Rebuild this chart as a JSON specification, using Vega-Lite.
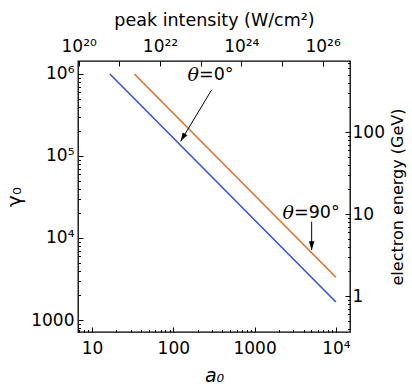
{
  "$schema": "https://vega.github.io/schema/vega-lite/v6.json",
  "width": 272,
  "height": 271,
  "autosize": {"type": "none"},
  "padding": {"left": 78, "top": 61, "right": 62, "bottom": 55},
  "background": "white",
  "config": {
    "view": {"stroke": "black", "strokeWidth": 1.3},
    "font": "DejaVu Sans",
    "axis": {
      "grid": false,
      "domain": false,
      "tickColor": "black",
      "tickWidth": 1,
      "labelColor": "black",
      "labelFont": "DejaVu Sans",
      "labelFontSize": 17,
      "titleColor": "black",
      "titleFont": "DejaVu Sans",
      "titleFontSize": 17.5,
      "titleFontWeight": "normal"
    }
  },
  "datasets": {
    "lines": [
      {"a0": 16.6, "gamma": 1000000, "theta": "0"},
      {"a0": 10000, "gamma": 1660, "theta": "0"},
      {"a0": 33.2, "gamma": 1000000, "theta": "90"},
      {"a0": 10000, "gamma": 3320, "theta": "90"}
    ],
    "arrows": [
      {"id": "0", "a0": 296.6, "gamma": 641000, "a0_tip": 123, "gamma_tip": 151000},
      {"id": "90", "a0": 5035, "gamma": 15800, "a0_tip": 5035, "gamma_tip": 7140}
    ],
    "notes": [
      {"id": "0", "a0": 207, "gamma": 960000, "sym": "θ", "rest": "=0°"},
      {"id": "90", "a0": 3055, "gamma": 20200, "sym": "θ", "rest": "=90°"}
    ],
    "intensity": [{"I": 9.64e19}, {"I": 4.73e26}],
    "energy": [{"GeV": 0.365}, {"GeV": 735.8}]
  },
  "layer": [
    {
      "encoding": {
        "x": {
          "field": "a0", "type": "quantitative",
          "scale": {"type": "log", "domain": [6.727, 14910], "nice": false, "zero": false},
          "axis": {
            "orient": "bottom",
            "title": "a₀",
            "titleFontStyle": "italic",
            "titleFontSize": 19,
            "titlePadding": 8,
            "values": [7,8,9,10,20,30,40,50,60,70,80,90,100,200,300,400,500,600,700,800,900,1000,2000,3000,4000,5000,6000,7000,8000,9000,10000],
            "labelExpr": "datum.value == 10 ? '10' : datum.value == 100 ? '100' : datum.value == 1000 ? '1000' : datum.value == 10000 ? '10⁴' : ''",
            "tickSize": {"condition": {"test": "abs(log(datum.value)/LN10 - round(log(datum.value)/LN10)) < 0.001", "value": -5}, "value": -2.5},
            "labelPadding": 13,
            "labelFlush": false,
            "labelOverlap": false
          }
        },
        "y": {
          "field": "gamma", "type": "quantitative",
          "scale": {"type": "log", "domain": [714, 1440000], "nice": false, "zero": false},
          "axis": {
            "orient": "left",
            "title": "γ₀",
            "titleFontSize": 20,
            "titlePadding": 6,
            "values": [800,900,1000,2000,3000,4000,5000,6000,7000,8000,9000,10000,20000,30000,40000,50000,60000,70000,80000,90000,100000,200000,300000,400000,500000,600000,700000,800000,900000,1000000],
            "labelExpr": "datum.value == 1000 ? '1000' : datum.value == 10000 ? '10⁴' : datum.value == 100000 ? '10⁵' : datum.value == 1000000 ? '10⁶' : ''",
            "tickSize": {"condition": {"test": "abs(log(datum.value)/LN10 - round(log(datum.value)/LN10)) < 0.001", "value": -5}, "value": -2.5},
            "labelPadding": 9,
            "labelFlush": false,
            "labelOverlap": false
          }
        }
      },
      "layer": [
        {
          "data": {"name": "lines"},
          "mark": {"type": "line", "strokeWidth": 1.6},
          "encoding": {
            "color": {"field": "theta", "type": "nominal", "scale": {"domain": ["0", "90"], "range": ["#3355dd", "#e0702c"]}, "legend": null},
            "detail": {"field": "theta"}
          }
        },
        {
          "data": {"name": "arrows"},
          "mark": {"type": "rule", "color": "black", "strokeWidth": 1},
          "encoding": {
            "x2": {"field": "a0_tip"},
            "y2": {"field": "gamma_tip"}
          }
        },
        {
          "data": {"name": "arrows"},
          "transform": [{"filter": "datum.id == '0'"}],
          "mark": {"type": "point", "shape": "M0,0L-0.32,-1L0.32,-1Z", "filled": true, "color": "black", "opacity": 1, "size": 300, "angle": 31},
          "encoding": {
            "x": {"field": "a0_tip", "type": "quantitative"},
            "y": {"field": "gamma_tip", "type": "quantitative"}
          }
        },
        {
          "data": {"name": "arrows"},
          "transform": [{"filter": "datum.id == '90'"}],
          "mark": {"type": "point", "shape": "M0,0L-0.32,-1L0.32,-1Z", "filled": true, "color": "black", "opacity": 1, "size": 300, "angle": 0},
          "encoding": {
            "x": {"field": "a0_tip", "type": "quantitative"},
            "y": {"field": "gamma_tip", "type": "quantitative"}
          }
        },
        {
          "data": {"name": "notes"},
          "mark": {"type": "text", "font": "DejaVu Serif", "fontStyle": "italic", "fontSize": 19, "align": "right", "baseline": "middle", "color": "black"},
          "encoding": {"text": {"field": "sym"}}
        },
        {
          "data": {"name": "notes"},
          "mark": {"type": "text", "font": "DejaVu Sans", "fontSize": 17.5, "align": "left", "baseline": "middle", "color": "black"},
          "encoding": {"text": {"field": "rest"}}
        }
      ]
    },
    {
      "data": {"name": "intensity"},
      "mark": {"type": "point", "opacity": 0},
      "encoding": {
        "x": {
          "field": "I", "type": "quantitative",
          "scale": {"type": "log", "domain": [9.64e19, 4.73e26], "nice": false, "zero": false},
          "axis": {
            "orient": "top",
            "title": "peak intensity (W/cm²)",
            "titlePadding": 8,
            "values": [1e20, 1e21, 1e22, 1e23, 1e24, 1e25, 1e26],
            "labelExpr": "round(log(datum.value)/LN10) == 20 ? '10²⁰' : round(log(datum.value)/LN10) == 22 ? '10²²' : round(log(datum.value)/LN10) == 24 ? '10²⁴' : round(log(datum.value)/LN10) == 26 ? '10²⁶' : ''",
            "tickSize": -5,
            "labelPadding": 11,
            "labelFlush": false,
            "labelOverlap": false
          }
        }
      }
    },
    {
      "data": {"name": "energy"},
      "mark": {"type": "point", "opacity": 0},
      "encoding": {
        "y": {
          "field": "GeV", "type": "quantitative",
          "scale": {"type": "log", "domain": [0.365, 735.8], "nice": false, "zero": false},
          "axis": {
            "orient": "right",
            "title": "electron energy (GeV)",
            "titleAngle": 270,
            "titleFontSize": 16,
            "titlePadding": 21,
            "values": [0.4,0.5,0.6,0.7,0.8,0.9,1,2,3,4,5,6,7,8,9,10,20,30,40,50,60,70,80,90,100,200,300,400,500,600,700],
            "labelExpr": "datum.value == 1 ? '1' : datum.value == 10 ? '10' : datum.value == 100 ? '100' : ''",
            "tickSize": {"condition": {"test": "abs(log(datum.value)/LN10 - round(log(datum.value)/LN10)) < 0.001", "value": -5}, "value": -2.5},
            "labelPadding": 7,
            "labelFlush": false,
            "labelOverlap": false
          }
        }
      }
    }
  ],
  "resolve": {
    "scale": {"x": "independent", "y": "independent"},
    "axis": {"x": "independent", "y": "independent"}
  }
}
